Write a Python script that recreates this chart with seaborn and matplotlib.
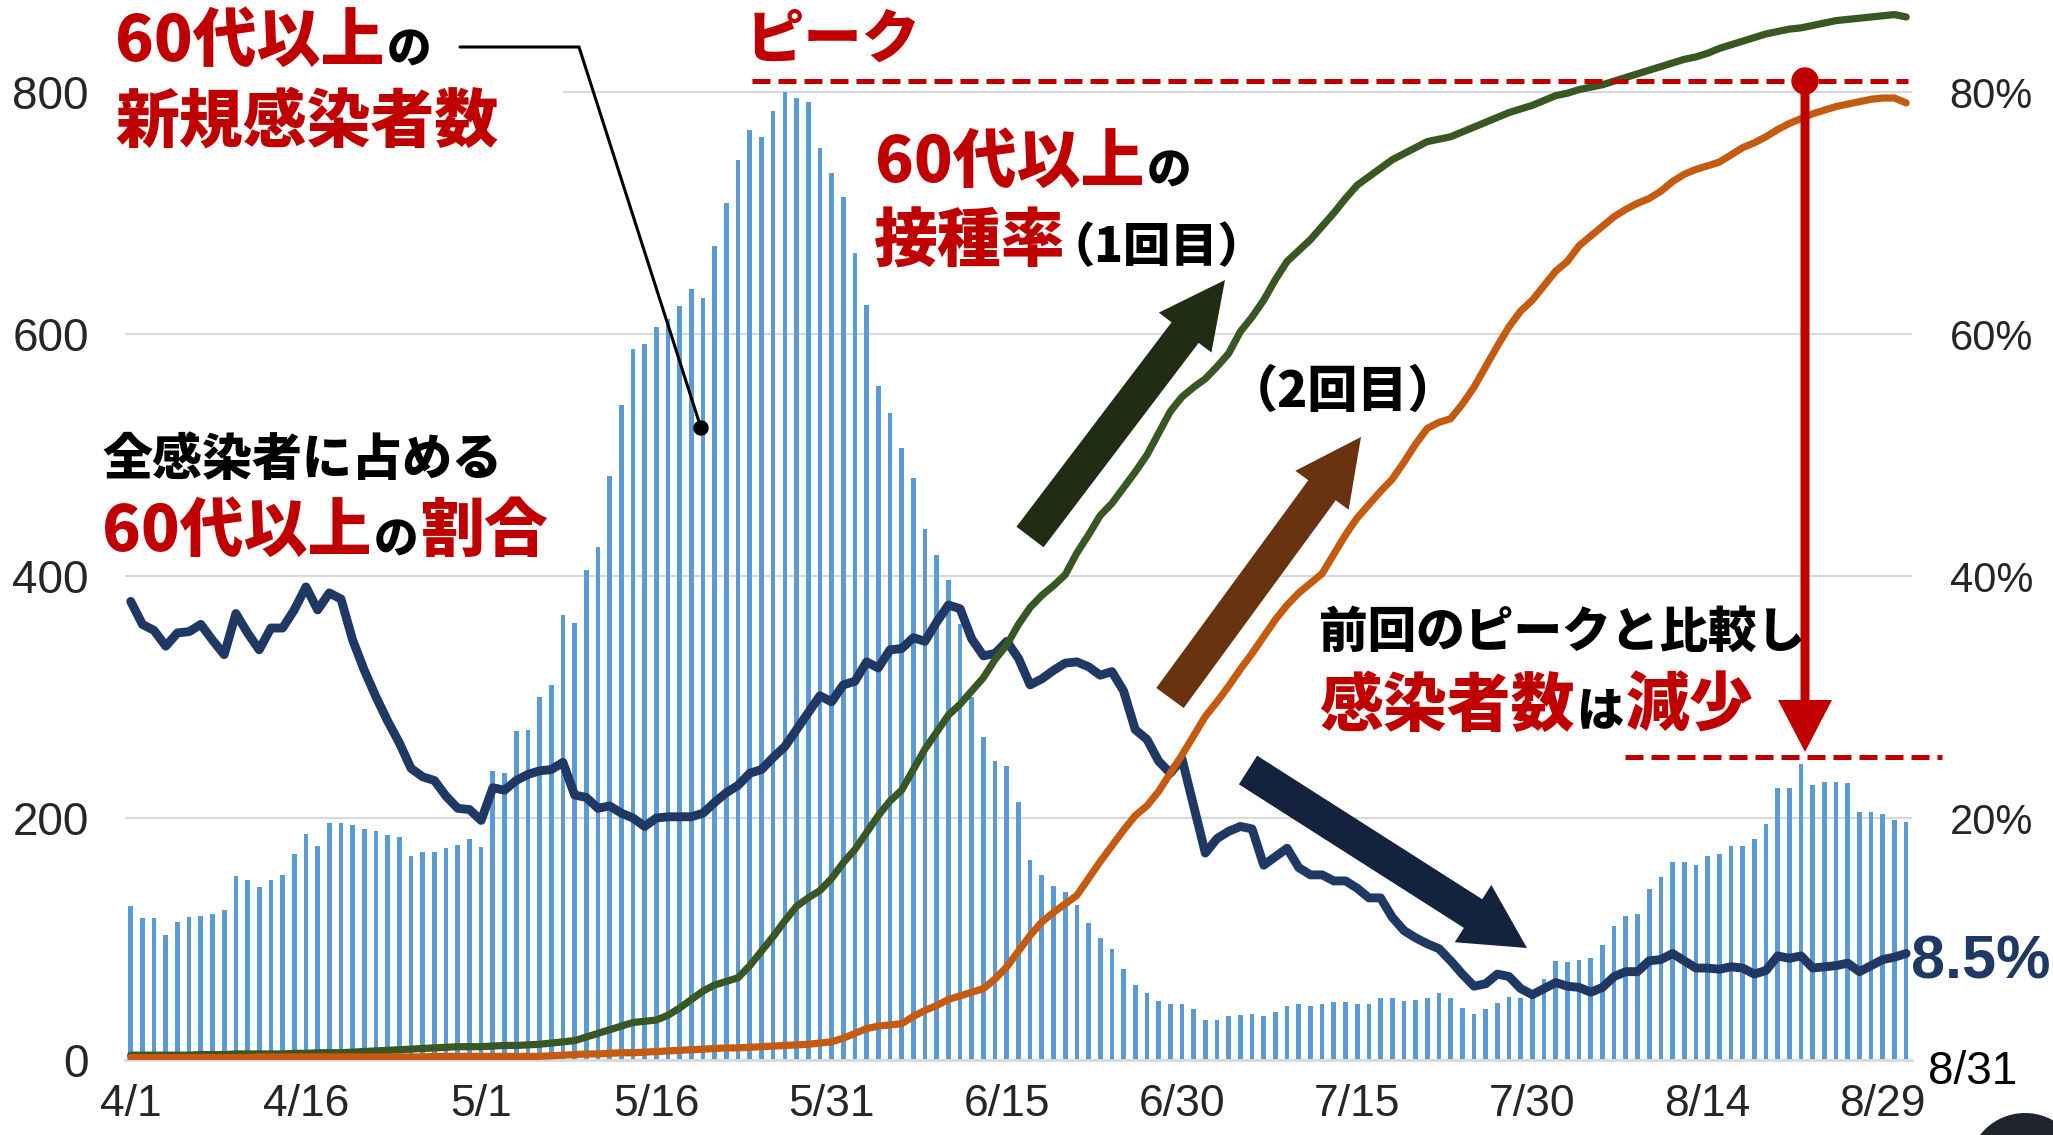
import numpy as np
import pandas as pd
import matplotlib
matplotlib.use("Agg")
import matplotlib.pyplot as plt
import seaborn as sns
from matplotlib.patches import FancyArrow, Rectangle, Circle

W, H, DPI = 2053, 1135, 100

# ---------------- data ----------------
dates = pd.date_range("2021-04-01", "2021-08-31", freq="D")
day_labels = [f"{d.month}/{d.day}" for d in dates]

new_cases_60plus = [
    127, 117, 117, 103, 114, 118, 119, 121, 124, 152,
    149, 143, 149, 153, 170, 187, 177, 196, 196, 194,
    191, 189, 186, 184, 169, 172, 172, 175, 178, 183,
    176, 239, 237, 272, 273, 300, 310, 368, 361, 405,
    424, 483, 541, 588, 592, 606, 612, 623, 637, 630,
    673, 708, 744, 769, 763, 784, 800, 795, 792, 754,
    733, 713, 667, 624, 557, 535, 506, 481, 439, 417,
    397, 360, 300, 267, 247, 243, 213, 165, 153, 144,
    139, 128, 113, 101, 92, 75, 62, 55, 49, 46,
    46, 42, 33, 33, 36, 37, 38, 36, 40, 45,
    46, 45, 46, 48, 48, 46, 46, 51, 51, 49,
    50, 51, 55, 51, 43, 38, 42, 47, 52, 51,
    58, 67, 82, 81, 83, 84, 95, 111, 119, 121,
    141, 151, 164, 164, 161, 169, 170, 177, 177, 183,
    195, 225, 225, 245, 227, 230, 230, 229, 205, 205,
    203, 198, 197,
]

share_60plus = [
    37.9, 36.0, 35.5, 34.2, 35.3, 35.4, 36.0, 34.7, 33.5, 36.9,
    35.3, 33.9, 35.7, 35.7, 37.2, 39.1, 37.2, 38.6, 38.1, 34.7,
    32.2, 30.0, 28.0, 26.2, 24.1, 23.4, 23.1, 21.8, 20.8, 20.7,
    19.8, 22.5, 22.3, 23.1, 23.6, 23.9, 24.0, 24.6, 21.9, 21.7,
    20.8, 21.0, 20.4, 20.0, 19.3, 20.0, 20.1, 20.1, 20.1, 20.4,
    21.3, 22.1, 22.7, 23.7, 24.0, 25.0, 25.9, 27.3, 28.7, 30.1,
    29.6, 31.0, 31.3, 32.9, 32.4, 33.9, 34.0, 34.9, 34.6, 36.2,
    37.6, 37.3, 34.8, 33.4, 33.6, 34.6, 33.2, 31.0, 31.5, 32.2,
    32.8, 32.9, 32.5, 31.8, 32.1, 30.5, 27.3, 26.5, 24.7, 23.7,
    24.9, 21.0, 17.1, 18.3, 18.9, 19.3, 19.1, 16.1, 16.8, 17.5,
    15.9, 15.3, 15.3, 14.8, 14.8, 14.2, 13.4, 13.4, 11.8, 10.7,
    10.1, 9.6, 9.2, 8.2, 7.1, 6.1, 6.3, 7.1, 6.9, 5.9,
    5.4, 5.9, 6.4, 6.1, 6.0, 5.6, 6.0, 6.9, 7.3, 7.3,
    8.2, 8.3, 8.8, 8.2, 7.6, 7.6, 7.5, 7.7, 7.6, 7.1,
    7.4, 8.6, 8.4, 8.6, 7.6, 7.7, 7.8, 8.0, 7.3, 7.8,
    8.3, 8.5, 8.8,
]

dose1_rate = [
    0.4, 0.4, 0.4, 0.4, 0.4, 0.4, 0.45, 0.45, 0.45, 0.5,
    0.5, 0.5, 0.5, 0.5, 0.55, 0.55, 0.6, 0.6, 0.6, 0.65,
    0.7, 0.75, 0.8, 0.85, 0.9, 0.95, 1.0, 1.05, 1.1, 1.1,
    1.1, 1.15, 1.2, 1.2, 1.25, 1.3, 1.4, 1.5, 1.6, 1.9,
    2.2, 2.5, 2.8, 3.1, 3.2, 3.3, 3.7, 4.3, 5.0, 5.7,
    6.2, 6.5, 6.8, 7.8, 9.0, 10.2, 11.5, 12.7, 13.4, 14.0,
    15.0, 16.3, 17.4, 18.8, 20.2, 21.4, 22.3, 24.0, 25.7, 27.1,
    28.5, 29.4, 30.5, 31.6, 33.1, 34.3, 36.0, 37.4, 38.4, 39.2,
    40.1, 41.9, 43.4, 45.0, 46.0, 47.3, 48.6, 50.0, 51.8, 53.6,
    54.8, 55.6, 56.3, 57.3, 58.4, 60.2, 61.4, 62.8, 64.5, 66.0,
    66.9, 67.8, 68.9, 70.0, 71.2, 72.3, 73.0, 73.7, 74.4, 74.9,
    75.4, 75.9, 76.1, 76.3, 76.7, 77.1, 77.5, 77.9, 78.3, 78.6,
    78.9, 79.3, 79.7, 79.9, 80.2, 80.4, 80.6, 80.9, 81.2, 81.5,
    81.8, 82.1, 82.4, 82.7, 82.9, 83.2, 83.6, 83.9, 84.2, 84.5,
    84.8, 85.0, 85.2, 85.3, 85.5, 85.7, 85.9, 86.0, 86.1, 86.2,
    86.3, 86.4, 86.2,
]

dose2_rate = [
    0.2, 0.2, 0.2, 0.2, 0.2, 0.2, 0.2, 0.2, 0.2, 0.2,
    0.2, 0.25, 0.25, 0.25, 0.25, 0.25, 0.25, 0.25, 0.25, 0.25,
    0.25, 0.25, 0.25, 0.25, 0.25, 0.25, 0.3, 0.3, 0.3, 0.3,
    0.3, 0.3, 0.3, 0.3, 0.3, 0.3, 0.35, 0.4, 0.45, 0.5,
    0.5, 0.55, 0.6, 0.6, 0.65, 0.7, 0.75, 0.8, 0.85, 0.9,
    0.95, 1.0, 1.0, 1.05, 1.1, 1.15, 1.2, 1.25, 1.3, 1.4,
    1.5, 1.8, 2.2, 2.6, 2.8, 2.9, 3.0, 3.6, 4.1, 4.5,
    5.0, 5.3, 5.6, 5.9, 6.7, 7.7, 9.0, 10.3, 11.4, 12.2,
    12.9, 13.6, 15.0, 16.4, 17.7, 19.0, 20.2, 21.0, 22.2, 23.7,
    25.2, 26.8, 28.4, 29.6, 30.9, 32.3, 33.6, 35.0, 36.4, 37.6,
    38.6, 39.4, 40.2, 41.8, 43.4, 44.8, 45.9, 47.0, 48.0, 49.4,
    50.9, 52.2, 52.7, 53.0, 54.2, 55.6, 57.3, 59.0, 60.6, 61.9,
    62.8, 64.0, 65.2, 66.0, 67.3, 68.1, 68.9, 69.7, 70.3, 70.8,
    71.2, 71.8, 72.6, 73.2, 73.6, 73.9, 74.2, 74.8, 75.4, 75.8,
    76.3, 76.9, 77.4, 77.8, 78.2, 78.5, 78.8, 79.0, 79.2, 79.4,
    79.5, 79.5, 79.1,
]

left_ticks = [0, 200, 400, 600, 800]
right_ticks = [20, 40, 60, 80]
label_step = 15

# ---------------- style ----------------
sns.set_theme(style="white")
plt.rcParams["font.family"] = ["Liberation Sans", "DejaVu Sans"]
JP = ["Noto Sans CJK JP", "DejaVu Sans"]
LAT = ["Liberation Sans", "DejaVu Sans"]

RED = "#C00000"
BAR = "#5B9BD5"
NAVY = "#1F3864"
GREEN = "#385723"
ORANGE = "#C55A11"
GRID = "#D9D9D9"

fig = plt.figure(figsize=(W / DPI, H / DPI), dpi=DPI)
x_left, x_right, y_base = 124.9, 1912.0, 1060.0
ax = fig.add_axes([x_left / W, (H - y_base) / H, (x_right - x_left) / W, y_base / H])

n = len(day_labels)
df = pd.DataFrame({"day": day_labels, "cases": new_cases_60plus})
sns.barplot(data=df, x="day", y="cases", order=day_labels, color=BAR,
            saturation=1, width=0.4, errorbar=None, linewidth=0, ax=ax)

ymax = y_base / 1.21
ax.set_xlim(-0.5, n - 0.5)
ax.set_ylim(0, ymax)
ax.set_xlabel("")
ax.set_ylabel("")
ax.set_yticks(left_ticks)
ax.set_yticklabels([str(v) for v in left_ticks], fontsize=33, family=LAT)
ax.tick_params(axis="y", length=0, pad=26)
ax.yaxis.grid(True, color=GRID, lw=1.5)
ax.xaxis.grid(False)
ax.set_axisbelow(True)
for s in ["left", "right", "top"]:
    ax.spines[s].set_visible(False)
ax.spines["bottom"].set_color(GRID)
ax.spines["bottom"].set_linewidth(2)

lab_pos = list(range(0, n, label_step))
ax.set_xticks([p - 0.5 for p in lab_pos])
ax.set_xticklabels([""] * len(lab_pos))
ax.set_xticks(lab_pos, minor=True)
ax.set_xticklabels([day_labels[p] for p in lab_pos], minor=True, fontsize=32, family=LAT)
ax.tick_params(axis="x", which="major", length=12, width=1.5, color=GRID, direction="out")
ax.tick_params(axis="x", which="minor", length=0, pad=17)

ax2 = ax.twinx()
xs = np.arange(n)
sns.lineplot(x=xs, y=share_60plus, ax=ax2, color=NAVY, lw=6.4,
             solid_joinstyle="round", solid_capstyle="round")
sns.lineplot(x=xs, y=dose1_rate, ax=ax2, color=GREEN, lw=5.2,
             solid_joinstyle="round", solid_capstyle="round")
sns.lineplot(x=xs, y=dose2_rate, ax=ax2, color=ORANGE, lw=5.2,
             solid_joinstyle="round", solid_capstyle="round")
ax2.set_ylim(0, ymax / 10)
ax2.set_xlim(-0.5, n - 0.5)
ax2.set_yticks(right_ticks)
ax2.set_yticklabels([f"{v}%" for v in right_ticks], fontsize=30, family=LAT)
ax2.tick_params(axis="y", length=0, pad=27)
ax2.grid(False)
ax2.set_ylabel("")
for s in ax2.spines.values():
    s.set_visible(False)

# ---------------- overlay in pixel coordinates ----------------
ov = fig.add_axes([0, 0, 1, 1], zorder=10)
ov.set_xlim(0, W)
ov.set_ylim(H, 0)
ov.axis("off")
ov.patch.set_alpha(0)

ov.add_patch(Rectangle((118, 86), 445, 12, color="white", lw=0))

renderer = fig.canvas.get_renderer()


def seq(x, y, parts, weight="heavy"):
    """parts: list of (text, size, color, dy, dx_before)"""
    for s, size, color, dy, dx in parts:
        x += dx
        t = ov.text(x, y + dy, s, fontsize=size, color=color, family=JP,
                    weight=weight, ha="left", va="center")
        x += t.get_window_extent(renderer).width + 2


seq(115, 42, [("60代以上", 46, RED, 0, 0), ("の", 32, "black", 8, 0)])
seq(115, 123, [("新規感染者数", 46, RED, 0, 0)])
seq(102, 460, [("全感染者に占める", 36, "black", 0, 0)])
seq(102, 532, [("60代以上", 46, RED, 0, 0), ("の", 32, "black", 8, 0),
               ("割合", 46, RED, 0, 0)])
seq(746, 40, [("ピーク", 42, RED, 0, 0)])
seq(875, 163, [("60代以上", 46, RED, 0, 0), ("の", 32, "black", 8, 0)])
seq(874, 243, [("接種率", 46, RED, 0, 0), ("（1回目）", 34, "black", 5, -20)])
seq(1228, 392, [("（2回目）", 36, "black", 0, 0)])
seq(1319, 633, [("前回のピークと比較し", 35, "black", 0, 0)])
seq(1319, 707, [("感染者数", 46, RED, 0, 0), ("は", 34, "black", 5, 0),
                ("減少", 46, RED, 0, 0)])

ov.text(1911, 963, "8.5%", fontsize=44, color=NAVY, family=LAT, weight="bold",
        ha="left", va="center")
ov.text(1973, 1072, "8/31", fontsize=33, color="black", family=LAT,
        ha="center", va="center")

# connector to bars
ov.plot([460, 579, 701], [47, 47, 428], color="black", lw=2.2, solid_joinstyle="miter")
ov.add_patch(Circle((701, 428), 7, color="black"))

# peak dashed lines
ov.plot([752, 1908], [81, 81], color=RED, lw=3.6, ls=(0, (3.6, 1.6)))
ov.plot([1625, 1942], [757, 757], color=RED, lw=3.6, ls=(0, (3.6, 1.6)))

# red vertical arrow
ov.add_patch(FancyArrow(1805, 81, 0, 671, width=9, head_width=54, head_length=52,
                        length_includes_head=True, color=RED, lw=0))
ov.add_patch(Circle((1805, 81), 13, color=RED))

# block arrows
ov.add_patch(FancyArrow(1030, 537, 195, -257, width=34, head_width=66, head_length=66,
                        length_includes_head=True, color="#202C14", lw=0))
ov.add_patch(FancyArrow(1170, 698, 191, -261, width=34, head_width=66, head_length=66,
                        length_includes_head=True, color="#6A3310", lw=0))
ov.add_patch(FancyArrow(1248, 770, 279, 178, width=34, head_width=68, head_length=64,
                        length_includes_head=True, color="#14233D", lw=0))

# dark circle at bottom-right corner
ov.add_patch(Circle((2025, 1170), 57, color="#1F242D", lw=0))

fig.savefig("out.png", dpi=DPI)
